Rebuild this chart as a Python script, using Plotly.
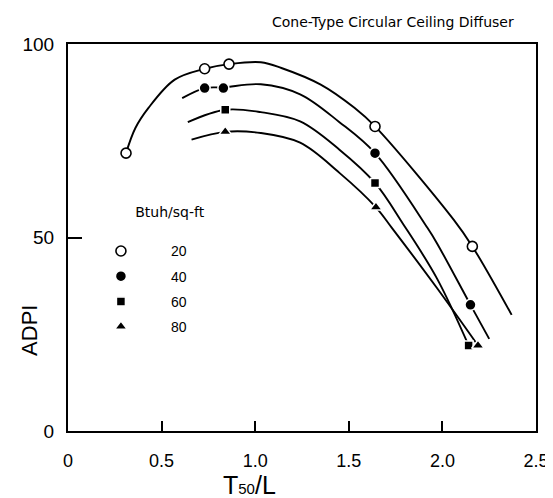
import plotly.graph_objects as go

# ---- data ----
series_names = ["20", "40", "60", "80"]

# measured points (markers)
pts20_x = [0.31, 0.73, 0.86, 1.64, 2.16]
pts20_y = [71.8, 93.6, 94.8, 78.7, 47.7]
pts40_x = [0.73, 0.83, 1.64, 2.15]
pts40_y = [88.6, 88.6, 71.8, 32.6]
pts60_x = [0.84, 1.64, 2.14]
pts60_y = [83.0, 64.1, 22.1]
pts80_x = [0.84, 1.645, 2.19]
pts80_y = [77.3, 57.8, 22.1]

# fitted curves
curve20_x = [0.31, 0.36, 0.43, 0.57, 0.73, 0.86, 1.03, 1.14, 1.35, 1.53, 1.64, 2.06, 2.16, 2.37]
curve20_y = [71.8, 78.3, 83.5, 90.8, 93.6, 94.8, 95.3, 93.8, 89.5, 83.5, 78.7, 54.6, 47.7, 30.0]
curve40_x = [0.61, 0.73, 0.83, 1.03, 1.24, 1.45, 1.64, 1.92, 1.97, 2.15, 2.25]
curve40_y = [86.0, 88.6, 88.8, 89.6, 87.0, 79.8, 71.8, 52.5, 48.6, 32.6, 23.8]
curve60_x = [0.64, 0.84, 1.03, 1.24, 1.45, 1.64, 1.79, 1.97, 2.14]
curve60_y = [79.8, 83.0, 82.4, 80.0, 72.7, 64.1, 53.5, 39.5, 22.1]
curve80_x = [0.66, 0.84, 1.03, 1.24, 1.45, 1.645, 1.73, 1.97, 2.19]
curve80_y = [75.3, 77.3, 77.0, 74.5, 66.7, 57.8, 52.5, 37.0, 22.1]

x_tick_vals = [0, 0.5, 1.0, 1.5, 2.0, 2.5]
x_tick_text = ["0", "0.5", "1.0", "1.5", "2.0", "2.5"]
y_tick_vals = [0, 50, 100]
y_tick_text = ["0", "50", "100"]

title_text = "Cone-Type Circular Ceiling Diffuser"
legend_title = "Btuh/sq-ft"
x_title = "T<span style='font-size:15px'>50</span>/L"
y_title = "ADPI"

curves = [(curve20_x, curve20_y), (curve40_x, curve40_y), (curve60_x, curve60_y), (curve80_x, curve80_y)]
points = [(pts20_x, pts20_y), (pts40_x, pts40_y), (pts60_x, pts60_y), (pts80_x, pts80_y)]
marker_styles = [
    dict(symbol="circle", size=10, color="white", line=dict(color="black", width=1.6)),
    dict(symbol="circle", size=11, color="black", line=dict(color="white", width=1.5)),
    dict(symbol="square", size=9, color="black", line=dict(color="white", width=1.5)),
    dict(symbol="triangle-up", size=11, color="black", line=dict(color="white", width=1.5)),
]

fig = go.Figure()
for cx, cy in curves:
    fig.add_trace(go.Scatter(x=cx, y=cy, mode="lines", line=dict(color="black", width=1.9, shape="spline", smoothing=1.0),
                             showlegend=False, hoverinfo="skip"))
for name, (px, py), ms in zip(series_names, points, marker_styles):
    fig.add_trace(go.Scatter(x=px, y=py, mode="markers", name=name, marker=ms, showlegend=True,
                             legendgroup="g" + name))

sans = "Liberation Sans, Arial, sans-serif"
geo = "DejaVu Sans, sans-serif"

L, R, T, B = 60, 14, 36, 75
PW = 553 - L - R
PH = 498 - T - B

fig.update_layout(
    width=553, height=498,
    margin=dict(l=L, r=R, t=T, b=B),
    plot_bgcolor="white", paper_bgcolor="white",
    font=dict(family=sans, color="black"),
    xaxis=dict(range=[0, 2.5], tickvals=x_tick_vals, ticktext=x_tick_text, ticks="inside", ticklen=10,
               tickwidth=1.5, tickcolor="black", showline=True, linecolor="black", linewidth=2, mirror=True,
               showgrid=False, zeroline=False, tickfont=dict(family=sans, size=18, color="black"),
               ticklabelstandoff=12, ticklabeloverflow="allow", fixedrange=True),
    yaxis=dict(range=[0, 100], tickvals=y_tick_vals, ticktext=y_tick_text, ticks="inside", ticklen=14,
               tickwidth=1.5, tickcolor="black", showline=True, linecolor="black", linewidth=2, mirror=True,
               showgrid=False, zeroline=False, tickfont=dict(family=sans, size=19, color="black"),
               ticklabelstandoff=8, fixedrange=True),
    legend=dict(title=dict(text="\u00a0" * 14 + legend_title + "<br>\u00a0", font=dict(family=geo, size=14)),
                x=(63 - L) / PW, y=(423 - 191) / PH, xanchor="left", yanchor="top", xref="paper", yref="paper",
                itemwidth=90, tracegroupgap=4, bgcolor="rgba(0,0,0,0)",
                font=dict(family=sans, size=14, color="black")),
    showlegend=True,
)

fig.add_annotation(text=title_text, xref="paper", yref="paper", x=(519 - L) / PW, y=1 + (T - 14) / PH,
                   xanchor="right", yanchor="middle", showarrow=False,
                   font=dict(family=geo, size=14, color="black"))
fig.add_annotation(text=y_title, xref="paper", yref="paper", x=-(L - 20) / PW, y=(423 - 322) / PH,
                   xanchor="center", yanchor="middle", textangle=-90, showarrow=False,
                   font=dict(family=sans, size=22, color="black"))
fig.add_annotation(text=x_title, xref="paper", yref="paper", x=(246 - L) / PW, y=-(477 - 423) / PH,
                   xanchor="center", yanchor="middle", showarrow=False,
                   font=dict(family=sans, size=25, color="black"))

fig.write_html("out.html")
